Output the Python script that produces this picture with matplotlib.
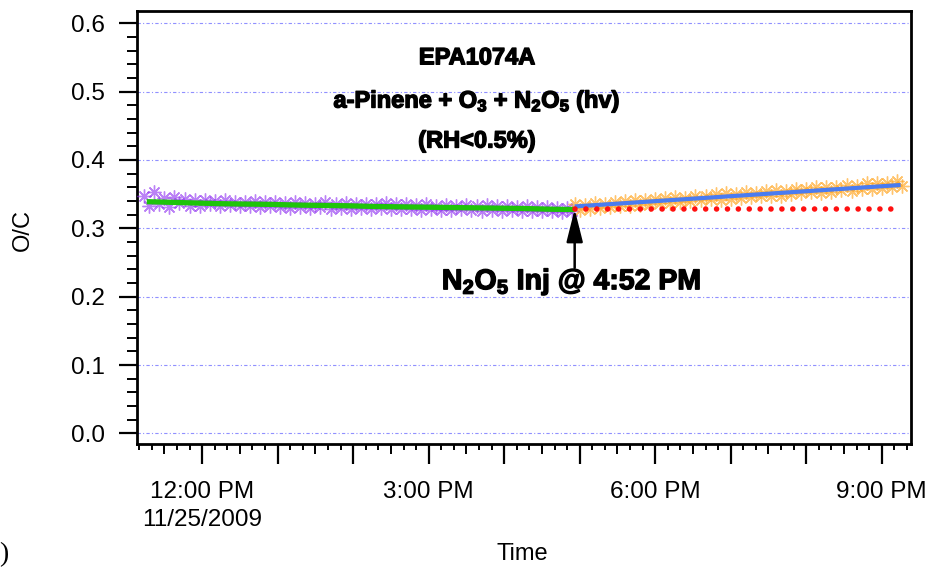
import numpy as np
import matplotlib
matplotlib.use("Agg")
import matplotlib.pyplot as plt
import matplotlib.patheffects as pe
from matplotlib.ticker import MultipleLocator, FuncFormatter, NullFormatter

plt.rcParams['font.family'] = ['Liberation Sans', 'DejaVu Sans']
plt.rcParams['mathtext.fontset'] = 'custom'
plt.rcParams['mathtext.rm'] = 'Liberation Sans'
plt.rcParams['mathtext.bf'] = 'Liberation Sans:bold'
plt.rcParams['mathtext.default'] = 'bf'


def hrs(s):
    h, m = s.split(':')
    return int(h) + int(m) / 60.0


# ---------------- data ----------------
# Before N2O5 injection (purple markers), sampled every 4 min from 11:14
purple_start = "11:14"
purple_step_min = 4
purple_oc = [
    0.348, 0.333, 0.353, 0.336, 0.345, 0.331, 0.346, 0.337, 0.343, 0.333,
    0.342, 0.333, 0.341, 0.335, 0.340, 0.332, 0.341, 0.334, 0.339, 0.332,
    0.339, 0.332, 0.340, 0.331, 0.338, 0.333, 0.339, 0.331, 0.337, 0.330,
    0.338, 0.331, 0.337, 0.330, 0.336, 0.331, 0.338, 0.329, 0.336, 0.330,
    0.337, 0.329, 0.336, 0.330, 0.335, 0.328, 0.336, 0.330, 0.337, 0.329,
    0.335, 0.328, 0.336, 0.329, 0.334, 0.327, 0.335, 0.329, 0.333, 0.327,
    0.334, 0.327, 0.333, 0.328, 0.334, 0.327, 0.332, 0.326, 0.334, 0.327,
    0.332, 0.326, 0.333, 0.327, 0.331, 0.325, 0.332, 0.326, 0.331, 0.325,
    0.331, 0.325, 0.330, 0.324, 0.330, 0.326,
]

# After N2O5 injection (orange markers), sampled every 4 min from 16:56
orange_start = "16:56"
orange_step_min = 4
orange_oc = [
    0.335, 0.327, 0.334, 0.329, 0.337, 0.330, 0.336, 0.331, 0.339, 0.332,
    0.340, 0.333, 0.341, 0.334, 0.342, 0.335, 0.343, 0.337, 0.345, 0.337,
    0.346, 0.338, 0.345, 0.340, 0.348, 0.341, 0.347, 0.343, 0.350, 0.342,
    0.351, 0.343, 0.350, 0.345, 0.353, 0.346, 0.352, 0.348, 0.355, 0.347,
    0.356, 0.348, 0.355, 0.350, 0.358, 0.351, 0.357, 0.353, 0.361, 0.352,
    0.361, 0.353, 0.360, 0.356, 0.364, 0.355, 0.362, 0.358, 0.366, 0.357,
    0.367, 0.359, 0.366, 0.361, 0.369, 0.362,
]

# Smoothed pre-injection trace (green)
green_times = ["11:16", "11:36", "11:56", "12:16", "12:36", "12:56", "13:16",
               "13:36", "13:56", "14:16", "14:36", "14:56", "15:16", "15:36",
               "15:56", "16:16", "16:36", "16:56"]
green_oc = [0.339, 0.338, 0.337, 0.336, 0.3355, 0.335, 0.334, 0.3335, 0.333,
            0.332, 0.3315, 0.331, 0.3305, 0.330, 0.3295, 0.329, 0.328, 0.3275]

# Post-injection fit (blue)
blue_times = ["16:56", "21:15"]
blue_oc = [0.332, 0.3634]

# Extrapolated pre-injection level (red dotted)
red_times = ["16:56", "21:07"]
red_oc = [0.328, 0.328]

injection_time = "16:56"
arrow_tail_oc = 0.242
arrow_tip_oc = 0.328

y_ticks = [0.0, 0.1, 0.2, 0.3, 0.4, 0.5, 0.6]
x_label_hours = {12: "12:00 PM", 15: "3:00 PM", 18: "6:00 PM", 21: "9:00 PM"}
date_label = "11/25/2009"

# ---------------- figure ----------------
W, H = 934, 569
fig = plt.figure(figsize=(W / 100, H / 100), dpi=100)
L, R, T, B = 136.7, 910.7, 11.0, 444.3
ax = fig.add_axes([L / W, 1 - B / H, (R - L) / W, (B - T) / H])

purple_t = hrs(purple_start) + np.arange(len(purple_oc)) * purple_step_min / 60.0
orange_t = hrs(orange_start) + np.arange(len(orange_oc)) * orange_step_min / 60.0

star = (8, 2, 0)
ax.plot(purple_t, purple_oc, linestyle='none', marker=star, markersize=10,
        markeredgewidth=1.0, color='#8f2ff0', alpha=0.6, zorder=3)
ax.plot(orange_t, orange_oc, linestyle='none', marker=star, markersize=10,
        markeredgewidth=1.0, color='#ffa520', alpha=0.65, zorder=3)

ax.plot([hrs(t) for t in green_times], green_oc, color='#1fc40a', lw=3.8,
        solid_capstyle='butt', zorder=4)
ax.plot([hrs(t) for t in blue_times], blue_oc, color='#4a7cf0', lw=3.0,
        solid_capstyle='butt', zorder=4)
ax.plot([hrs(t) for t in red_times], red_oc, color='#ff1010', lw=4.0,
        linestyle=(0, (0.01, 1.95)), dash_capstyle='round', zorder=5)

# arrow + annotation
xi = hrs(injection_time)
ax.annotate('', xy=(xi, arrow_tip_oc), xytext=(xi, arrow_tail_oc),
            arrowprops=dict(arrowstyle='-|>,head_length=1.0,head_width=0.25',
                            mutation_scale=20, lw=1.8, color='black',
                            shrinkA=0, shrinkB=0), zorder=6)
heavy = [pe.withStroke(linewidth=1.0, foreground='black')]
ax.text(xi - 0.04, 0.221, r'N$_2$O$_5$ Inj @ 4:52 PM', ha='center', va='center',
        fontsize=20.5, fontweight='bold', zorder=7, path_effects=heavy)

# title block
tx = (477 - L) / (R - L)
ax.text(tx, 0.877, 'EPA1074A', transform=ax.transAxes, ha='center',
        va='baseline', fontsize=17, fontweight='bold', path_effects=heavy)
ax.text(tx, 0.777, r'a-Pinene + O$_3$ + N$_2$O$_5$ (hv)', transform=ax.transAxes,
        ha='center', va='baseline', fontsize=17, fontweight='bold', path_effects=heavy)
ax.text(tx, 0.685, '(RH<0.5%)', transform=ax.transAxes, ha='center',
        va='baseline', fontsize=17, fontweight='bold', path_effects=heavy)

# axes limits & grid
ax.set_xlim(hrs("11:08"), hrs("21:23"))
ax.set_ylim(-0.016, 0.618)
for yv in y_ticks:
    ax.axhline(yv, color='#9090ff', lw=0.8, linestyle=(0, (3, 2, 1, 2)), zorder=1)

for sp in ax.spines.values():
    sp.set_linewidth(2.0)

# y axis
ax.yaxis.set_major_locator(MultipleLocator(0.1))
ax.yaxis.set_minor_locator(MultipleLocator(0.02))
ax.yaxis.set_major_formatter(FuncFormatter(lambda v, p: f"{v:.1f}"))
ax.tick_params(axis='y', which='major', direction='out', length=13, width=1.6,
               labelsize=17.5, pad=10)
ax.tick_params(axis='y', which='minor', direction='out', length=7, width=1.4)

# x axis
ax.xaxis.set_major_locator(MultipleLocator(1.0))
ax.xaxis.set_minor_locator(MultipleLocator(1 / 6))
ax.xaxis.set_major_formatter(FuncFormatter(
    lambda v, p: x_label_hours.get(int(round(v)), '')))
ax.tick_params(axis='x', which='major', direction='out', length=14.5, width=1.6,
               labelsize=17.5, pad=12)
ax.tick_params(axis='x', which='minor', direction='out', length=4, width=1.4)

sec = ax.secondary_xaxis('bottom')
sec.set_xticks(np.arange(11.5, 21.5, 1.0))
sec.xaxis.set_major_formatter(NullFormatter())
sec.tick_params(axis='x', direction='out', length=7.5, width=1.4)
sec.spines['bottom'].set_visible(False)

ax.text(12.0, -0.1747, date_label, transform=ax.get_xaxis_transform(),
        ha='center', va='center', fontsize=17.5)

ax.set_xlabel('Time', fontsize=17)
ax.xaxis.set_label_coords(0.498, -0.228)
ax.xaxis.label.set_va('top')
ax.set_ylabel('O/C', fontsize=17)
ax.yaxis.set_label_coords(-0.1327, 0.495)

fig.text(0.004, 0.0246, ')', ha='center', va='center', fontsize=20,
         family='Liberation Serif')

fig.savefig('out.png', dpi=100)
